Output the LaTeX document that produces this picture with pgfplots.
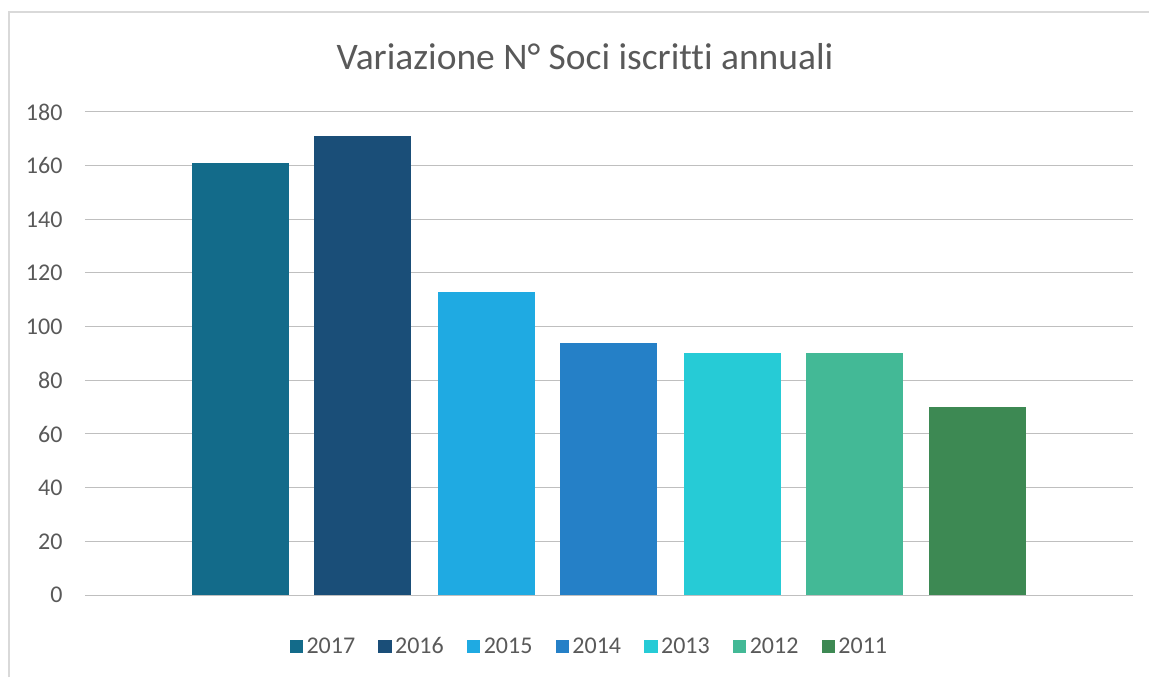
\documentclass[border=0pt]{standalone}
\usepackage{pgfplots}
\pgfplotsset{compat=1.18}
\usepackage{fontspec}
\setmainfont{Carlito}[Ligatures=NoCommon]
\definecolor{c2017}{HTML}{136B8A}
\definecolor{c2016}{HTML}{1A4E78}
\definecolor{c2015}{HTML}{1FAAE2}
\definecolor{c2014}{HTML}{2580C7}
\definecolor{c2013}{HTML}{26CBD6}
\definecolor{c2012}{HTML}{43B996}
\definecolor{c2011}{HTML}{3D8953}
\definecolor{txt}{HTML}{595959}
\definecolor{grid}{HTML}{D9D9D9}
\begin{document}
\begin{tikzpicture}
\path[use as bounding box] (0pt,0pt) rectangle (689.4pt,406.2pt);
\draw[grid,line width=1.2pt] (5.4pt,0pt) -- (5.4pt,399pt) -- (689.4pt,399pt);
\node[txt,font=\fontsize{22.5}{27}\selectfont] at (351pt,372pt) {Variazione N° Soci iscritti annuali};
\begin{axis}[
  at={(51pt,49.2pt)}, anchor=south west,
  scale only axis, width=628.8pt, height=289.8pt,
  xmin=85, xmax=1133, ymin=0, ymax=180,
  ytick={0,20,...,180},
  xtick=\empty,
  ymajorgrids, grid style={grid, line width=0.6pt},
  axis line style={draw=none},
  major tick length=0pt,
  tick label style={txt, font=\fontsize{14.4}{16}\selectfont},
  yticklabel style={xshift=-10pt},
  /pgf/number format/assume math mode=true,
  ybar, bar width=58.2pt, bar shift=0pt,
  area legend,
  legend columns=7,
  legend style={at={(0.482,-0.1065)}, anchor=center, draw=none, fill=none,
    font=\fontsize{14.4}{16}\selectfont, text=txt,
    nodes={text height=9.5pt, text depth=0.5pt, inner ysep=1pt},
    /tikz/every even column/.append style={column sep=12pt}},
  legend image code/.code={\fill[#1] (0pt,-4pt) rectangle (8pt,4pt);},
]
\addplot[fill=c2017, draw=none] coordinates {(240.5,161)};
\addplot[fill=c2016, draw=none] coordinates {(362.5,171)};
\addplot[fill=c2015, draw=none] coordinates {(486.5,113)};
\addplot[fill=c2014, draw=none] coordinates {(608.5,94)};
\addplot[fill=c2013, draw=none] coordinates {(732.5,90)};
\addplot[fill=c2012, draw=none] coordinates {(854.5,90)};
\addplot[fill=c2011, draw=none] coordinates {(977.5,70)};
\legend{2017,2016,2015,2014,2013,2012,2011}
\end{axis}
\end{tikzpicture}
\end{document}
